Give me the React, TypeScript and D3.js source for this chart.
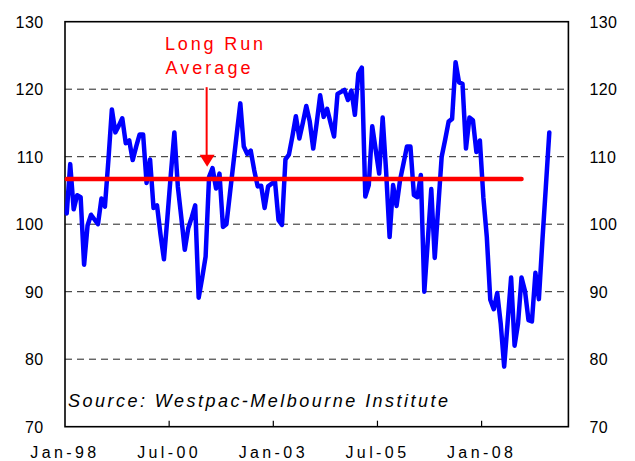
import React from "react";
import * as d3 from "d3";

// Monthly index values, Jan-98 (index 0) to Aug-09 (index 139)
const sentiment: number[] = [
  101.6, 108.9, 102.2, 104.3, 104.0, 94.0, 99.8, 101.4, 100.7, 100.0,
  103.8, 102.6, 109.5, 117.0, 113.6, 114.6, 115.7, 112.0, 112.4, 109.5,
  111.5, 113.3, 113.3, 106.1, 109.6, 102.4, 102.8, 98.5, 94.8, 101.0,
  107.5, 113.6, 105.6, 101.0, 96.2, 99.4, 101.0, 102.8, 89.1, 92.0,
  95.2, 107.0, 108.3, 105.3, 107.5, 99.6, 100.0, 104.5, 109.0, 113.5,
  117.9, 111.5, 110.4, 110.9, 108.0, 105.6, 105.7, 102.4, 105.6, 106.0,
  106.3, 100.6, 99.9, 109.6, 110.3, 113.0, 116.0, 112.7, 115.0, 117.5,
  115.2, 111.2, 115.0, 119.1, 115.9, 117.1, 115.0, 113.0, 119.3, 119.6,
  119.9, 118.4, 119.8, 116.2, 122.3, 123.2, 104.1, 105.8, 114.5, 111.0,
  107.5, 115.8, 107.8, 98.1, 105.8, 102.7, 106.5, 109.0, 111.5, 111.5,
  104.3, 104.0, 107.3, 90.0, 97.5, 105.2, 95.0, 102.5, 110.0, 112.5,
  115.2, 115.6, 124.0, 121.0, 120.8, 111.2, 115.8, 115.4, 110.7, 112.4,
  104.0, 98.1, 88.8, 87.4, 89.8, 85.3, 78.9, 85.5, 92.1, 82.0,
  85.3, 92.1, 90.1, 85.8, 85.6, 92.8, 88.9, 97.5, 105.5, 113.6,
];

const longRunAverage = 106.7;
const averageStart = 0;
const averageEnd = 131;

const xTickMonths: number[] = [0, 30, 60, 90, 120];
const xTickLabels: string[] = ["Jan-98", "Jul-00", "Jan-03", "Jul-05", "Jan-08"];
const yTicks: number[] = [70, 80, 90, 100, 110, 120, 130];
const gridValues: number[] = [80, 90, 100, 110, 120];

const W = 635;
const H = 461;
const left = 65;
const right = 568.4;
const top = 21.7;
const bottom = 426.7;

export default function App() {
  const x = d3.scaleLinear().domain([0, 145]).range([left, right]);
  const y = d3.scaleLinear().domain([70, 130]).range([bottom, top]);

  const line = d3
    .line<number>()
    .x((_, i) => x(i + 0.5))
    .y((d) => y(d));

  const font = "Arial, 'Liberation Sans', sans-serif";

  const arrowX = x(40.8);
  const arrowTop = y(120.3);
  const arrowTip = y(108.5);

  return (
    <div style={{ position: "absolute", left: 0, top: 0 }}>
      <svg width={W} height={H} style={{ display: "block", background: "#fff" }}>
        {/* gridlines */}
        {gridValues.map((v) => (
          <line
            key={v}
            x1={left}
            x2={right}
            y1={y(v)}
            y2={y(v)}
            stroke="#222"
            strokeWidth={1}
            strokeDasharray="7,5"
          />
        ))}
        {/* frame */}
        <rect
          x={left}
          y={top}
          width={right - left}
          height={bottom - top}
          fill="none"
          stroke="#000"
          strokeWidth={1.6}
        />
        {/* x tick marks */}
        {xTickMonths.slice(1).map((m) => (
          <line key={m} x1={x(m)} x2={x(m)} y1={bottom} y2={bottom - 6} stroke="#000" strokeWidth={1.2} />
        ))}
        {/* y labels */}
        {yTicks.map((v) => (
          <g key={v}>
            <text x={43.5} y={y(v) + 5.8} textAnchor="end" fontFamily={font} fontSize={16} fill="#000" letterSpacing={0.4}>
              {v}
            </text>
            <text x={589.5} y={y(v) + 5.8} textAnchor="start" fontFamily={font} fontSize={16} fill="#000" letterSpacing={0.4}>
              {v}
            </text>
          </g>
        ))}
        {/* x labels */}
        {xTickMonths.map((m, i) => (
          <text key={m} x={x(m)} y={458} textAnchor="middle" fontFamily={font} fontSize={16} fill="#000" letterSpacing={3.4}>
            {xTickLabels[i]}
          </text>
        ))}
        {/* series */}
        <path
          d={line(sentiment) || ""}
          fill="none"
          stroke="#0000ff"
          strokeWidth={4.5}
          strokeLinejoin="round"
          strokeLinecap="round"
        />
        <line
          x1={x(averageStart + 0.5)}
          x2={x(averageEnd + 0.5)}
          y1={y(longRunAverage)}
          y2={y(longRunAverage)}
          stroke="#ff0000"
          strokeWidth={4.5}
          strokeLinecap="round"
        />
        {/* annotation */}
        <text x={165} y={50} fontFamily={font} fontSize={18} fill="#ff0000" textLength={98} lengthAdjust="spacing">
          Long Run
        </text>
        <text x={165.5} y={74} fontFamily={font} fontSize={18} fill="#ff0000" textLength={85} lengthAdjust="spacing">
          Average
        </text>
        <line x1={arrowX} x2={arrowX} y1={arrowTop} y2={arrowTip - 8} stroke="#ff0000" strokeWidth={2} />
        <path
          d={`M${arrowX - 7},${arrowTip - 12} L${arrowX + 8},${arrowTip - 12} L${arrowX + 0.5},${arrowTip} Z`}
          fill="#ff0000"
        />
        {/* source */}
        <text
          x={68}
          y={406.5}
          fontFamily={font}
          fontSize={18}
          fontStyle="italic"
          fill="#000"
          textLength={380}
          lengthAdjust="spacing"
        >
          Source: Westpac-Melbourne Institute
        </text>
      </svg>
    </div>
  );
}
